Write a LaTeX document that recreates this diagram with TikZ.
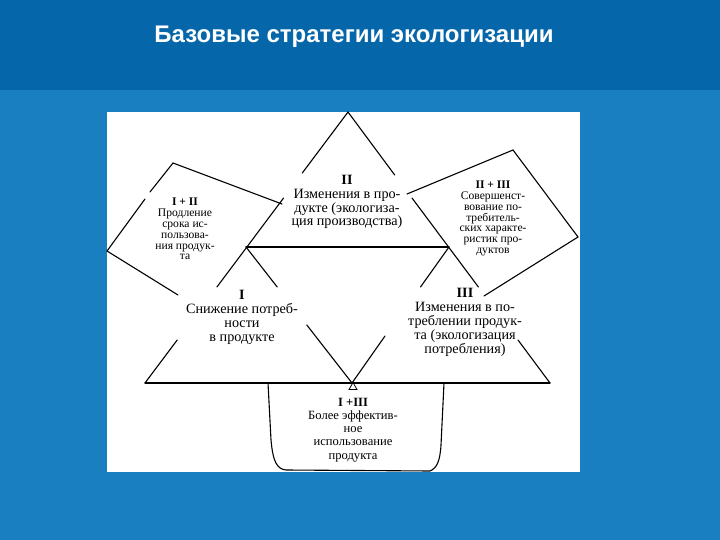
\documentclass[tikz,border=0pt]{standalone}
\usepackage{fontspec}
\setmainfont{Liberation Serif}
\newfontfamily\titlefont{Liberation Sans}
\definecolor{topblue}{HTML}{0566AA}
\definecolor{lowblue}{HTML}{1A7FC1}
\tikzset{
  edge/.style={line width=1.1pt, black, line cap=round},
  lblbig/.style={align=center, inner sep=0pt, font=\fontsize{14.2}{13.9}\selectfont},
  lblsmall/.style={align=center, inner sep=0pt, font=\fontsize{11.6}{10.9}\selectfont},
  lblmid/.style={align=center, inner sep=0pt, font=\fontsize{12.6}{13.2}\selectfont},
}
\begin{document}
\begin{tikzpicture}[x=1pt,y=-1pt]
\useasboundingbox (0,0) rectangle (720,540);
\fill[lowblue] (0,0) rectangle (720,540);
\fill[topblue] (0,0) rectangle (720,90);
\fill[white] (107,112) rectangle (580,472);
\node[text=white, font=\titlefont\bfseries\fontsize{24}{28}\selectfont] (title) at (354,37) {Базовые стратегии экологизации};

% main vertices
\coordinate (A) at (348,112);
\coordinate (L) at (145,383);
\coordinate (R) at (550,383);
\coordinate (ML) at (246,247);
\coordinate (MR) at (449,247);
\coordinate (MB) at (352,383);
% gap points
\coordinate (l1) at (302.3,173);
\coordinate (l2) at (283.6,198);
\coordinate (l3) at (216.9,287);
\coordinate (l4) at (177.2,340);
\coordinate (r1) at (394.7,175);
\coordinate (r2) at (412,198);
\coordinate (r3) at (478.4,287);
\coordinate (r4) at (518,340);
\coordinate (i1) at (277.2,287);
\coordinate (i2) at (306.8,325);
\coordinate (j1) at (420.5,287);
\coordinate (j2) at (385,336);

% big triangle sides with gaps
\draw[edge] (A) -- (l1);
\draw[edge] (l2) -- (l3);
\draw[edge] (l4) -- (L);
\draw[edge] (A) -- (r1);
\draw[edge] (r2) -- (r3);
\draw[edge] (r4) -- (R);
\draw[edge] (ML) -- (MR);
\draw[edge] (L) -- (R);
\draw[edge] (ML) -- (i1);
\draw[edge] (i2) -- (MB);
\draw[edge] (MR) -- (j1);
\draw[edge] (j2) -- (MB);
% small marker
\coordinate (m1) at (353,382.5);
\coordinate (m2) at (349,389.5);
\coordinate (m3) at (357,389.5);
\draw[line width=0.8pt] (m1) -- (m2) -- (m3) -- cycle;

% left quad I+II
\coordinate (T1) at (173,163);
\coordinate (R1) at (282,204);
\coordinate (L1) at (107,251);
\coordinate (q1) at (150,192);
\coordinate (q2) at (145,199);
\coordinate (B1) at (178,295);
\draw[edge] (T1) -- (R1);
\draw[edge] (T1) -- (q1);
\draw[edge] (q2) -- (L1) -- (B1);

% right quad II+III
\coordinate (T2) at (513,150);
\coordinate (L2) at (407,194);
\coordinate (R2) at (578,237);
\coordinate (B2) at (484,296);
\draw[edge] (L2) -- (T2) -- (R2) -- (B2);

% bottom shape I+III
\coordinate (BL) at (268,383);
\coordinate (BR) at (444,383);
\coordinate (BL2) at (271,440);
\coordinate (BL3) at (286,470);
\coordinate (BR2) at (441,445);
\coordinate (BR3) at (430,471);
\draw[edge] (BL) -- (BL2) .. controls (273,462) and (277,469) .. (BL3) -- (BR3) .. controls (437,468) and (440,461) .. (BR2) -- (BR);

% labels
\node[lblbig] (tII) at (347,202) {\textbf{II}\\Изменения в про-\\дукте (экологиза-\\ция производства)};
\node[lblbig] (tI) at (242,317.5) {\textbf{I}\\Снижение потреб-\\ности\\в продукте};
\node[lblbig] (tIII) at (465,322.5) {\textbf{III}\\Изменения в по-\\треблении продук-\\та (экологизация\\потребления)};
\node[lblsmall] (tI2) at (185,229) {\textbf{I + II}\\Продление\\срока ис-\\пользова-\\ния продук-\\та};
\node[lblsmall] (tII3) at (493,218.5) {\textbf{II + III}\\Совершенст-\\вование по-\\требитель-\\ских характе-\\ристик про-\\дуктов};
\node[lblmid] (tI3) at (353,430) {\textbf{I +III}\\Более эффектив-\\ное\\использование\\продукта};
\end{tikzpicture}
\end{document}
